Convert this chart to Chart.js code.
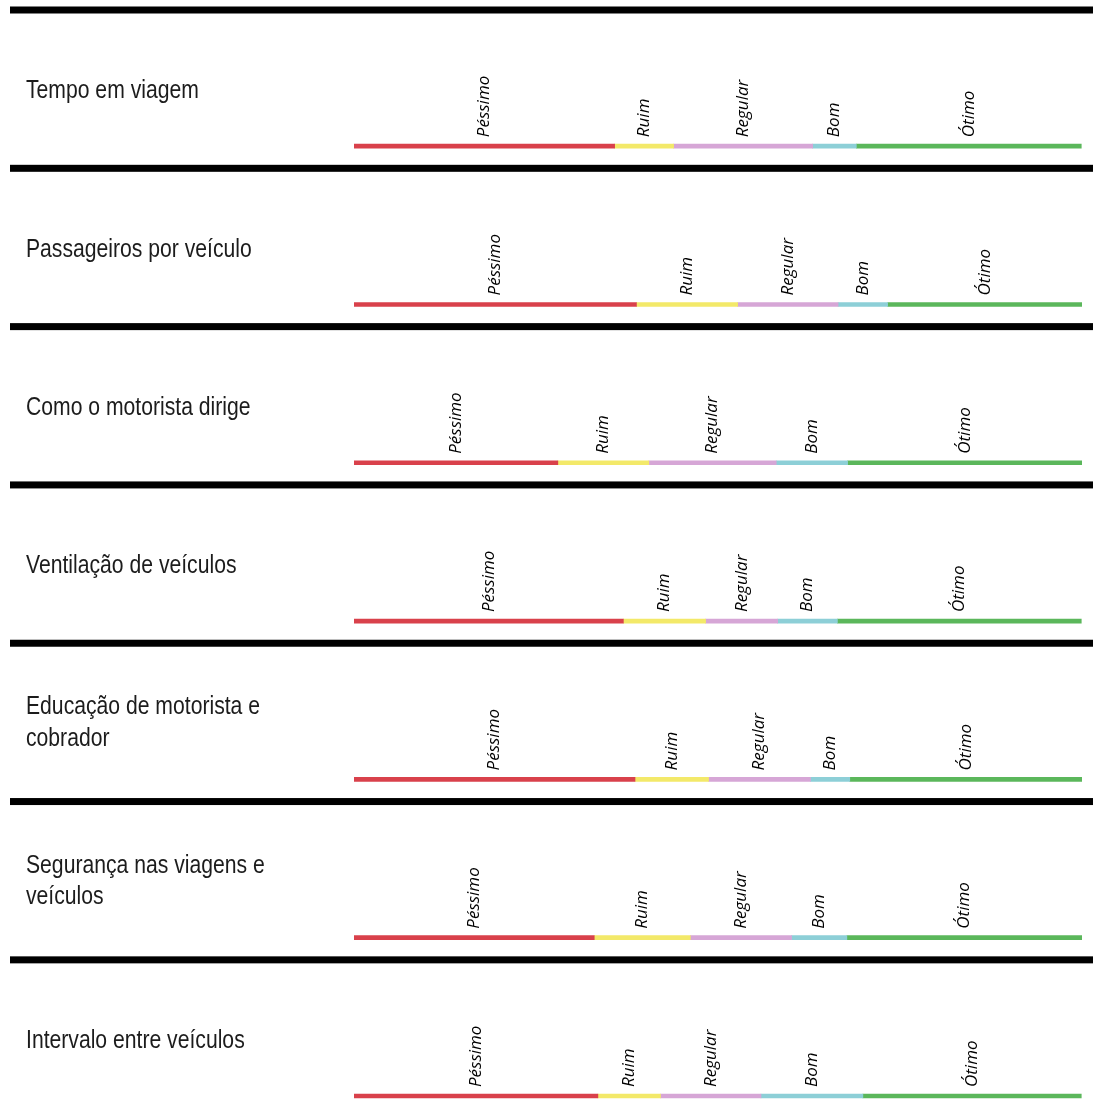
<!DOCTYPE html>
<html>
<head>
<meta charset="utf-8">
<script src="https://cdn.jsdelivr.net/npm/chart.js@4/dist/chart.umd.min.js"></script>
<style>
  html, body { margin: 0; padding: 0; background: #ffffff; overflow: hidden; }
  #wrap { width: 1093px; height: 1115px; position: relative; }
</style>
</head>
<body>
<div id="wrap"><canvas id="c" width="1093" height="1115"></canvas></div>
<script>
// ---- data ----
const categories = [
  'Tempo em viagem',
  'Passageiros por veículo',
  'Como o motorista dirige',
  'Ventilação de veículos',
  ['Educação de motorista e', 'cobrador'],
  ['Segurança nas viagens e', 'veículos'],
  'Intervalo entre veículos'
];
const ratings = ['Péssimo', 'Ruim', 'Regular', 'Bom', 'Ótimo'];
const pessimo = [35.8, 38.8, 28.0, 37.0, 38.6, 33.0, 33.5];
const ruim    = [8.1, 13.9, 12.5, 11.3, 10.1, 13.2, 8.6];
const regular = [19.1, 13.8, 17.5, 9.9, 14.0, 13.9, 13.8];
const bom     = [6.0, 6.8, 9.8, 8.2, 5.4, 7.6, 14.0];
const otimo   = [30.9, 26.7, 32.3, 33.5, 31.9, 32.3, 30.0];

// ---- styling / layout ----
const seriesValues = [pessimo, ruim, regular, bom, otimo];
const colors = ['#d9414b', '#f3e969', '#d6a6d6', '#8dcfd7', '#5bb75b'];
const BAR_POS = 0.86;       // position of the line inside each row band
const LABEL_X = 26;
const SEP_X = 10;

function fontAvailable(name) {
  const c = document.createElement('canvas').getContext('2d');
  const t = 'Passageiros por veículo Ótimo';
  c.font = '40px monospace';
  const w1 = c.measureText(t).width;
  c.font = '40px "' + name + '", monospace';
  return Math.abs(c.measureText(t).width - w1) > 0.5;
}
const narrow = fontAvailable('Liberation Sans Narrow');
const rowFont = narrow ? '25.8px "Liberation Sans Narrow"' : '25.8px "Liberation Sans", Arial';
const rowScaleX = narrow ? 1 : 0.82;

const datasets = seriesValues.map((vals, k) => ({
  label: ratings[k],
  data: vals.map((v, i) => ({ x: v, y: i + BAR_POS })),
  backgroundColor: colors[k],
  borderWidth: 0,
  barThickness: 4,
  stack: 's'
}));

const decor = {
  id: 'decor',
  beforeDatasetsDraw(chart) {
    const ctx = chart.ctx;
    const ys = chart.scales.y;
    ctx.save();
    ctx.fillStyle = '#000000';
    for (let i = 0; i < categories.length; i++) {
      const y = ys.getPixelForValue(i);
      ctx.fillRect(SEP_X, y - 3.5, chart.width - SEP_X, 7);
    }
    // row labels
    ctx.fillStyle = '#1c1c1c';
    ctx.font = rowFont;
    ctx.textAlign = 'left';
    ctx.textBaseline = 'alphabetic';
    categories.forEach((cat, i) => {
      const lines = Array.isArray(cat) ? cat : [cat];
      const c = ys.getPixelForValue(i + 0.5);
      const n = lines.length;
      const lh = 31.7;
      lines.forEach((ln, k) => {
        const base = c + 9.2 - (n - 1) * lh / 2 + k * lh - (n - 1) * 1.5;
        ctx.save();
        ctx.translate(LABEL_X, base);
        ctx.scale(rowScaleX, 1);
        ctx.fillText(ln, 0, 0);
        ctx.restore();
      });
    });
    ctx.restore();
  },
  afterDatasetsDraw(chart) {
    const ctx = chart.ctx;
    ctx.save();
    ctx.fillStyle = '#000000';
    ctx.font = 'italic 17px "Open Sans", "Liberation Sans", sans-serif';
    ctx.textAlign = 'left';
    ctx.textBaseline = 'middle';
    chart.data.datasets.forEach((ds, k) => {
      const meta = chart.getDatasetMeta(k);
      meta.data.forEach((el) => {
        const cx = (el.x + el.base) / 2;
        ctx.save();
        ctx.translate(cx, el.y - 9);
        ctx.rotate(-Math.PI / 2);
        ctx.fillText(ds.label, 0, 0);
        ctx.restore();
      });
    });
    ctx.restore();
  }
};

new Chart(document.getElementById('c'), {
  type: 'bar',
  data: { datasets },
  options: {
    indexAxis: 'y',
    responsive: false,
    animation: false,
    layout: { padding: { left: 354, right: 11, top: 10, bottom: 0 } },
    scales: {
      x: { type: 'linear', min: 0, max: 100, stacked: true, display: false, offset: false },
      y: { type: 'linear', min: 0, max: 6.98, reverse: true, stacked: true, display: false, offset: false }
    },
    plugins: {
      legend: { display: false },
      tooltip: { enabled: false }
    }
  },
  plugins: [decor]
});
</script>
</body>
</html>
